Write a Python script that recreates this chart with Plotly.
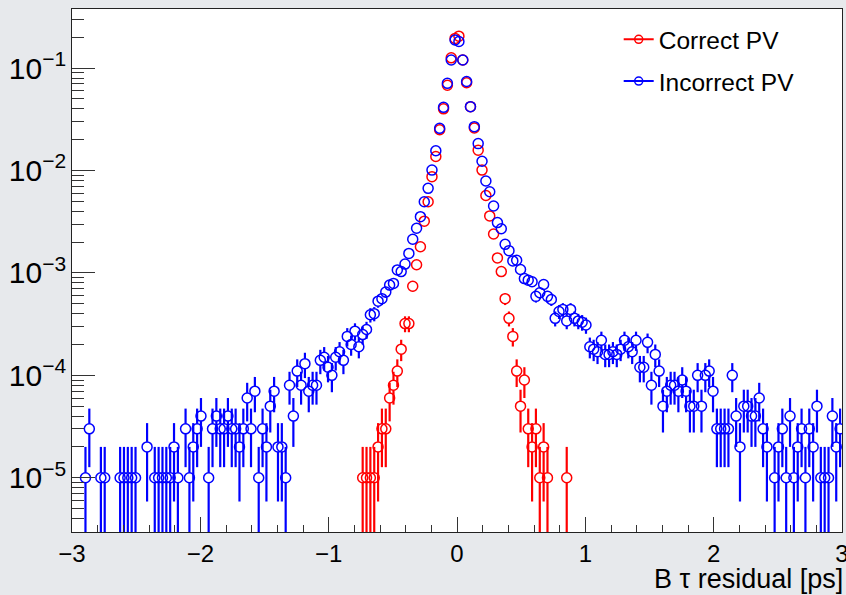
import plotly.graph_objects as go

# ---------------- data ----------------
X_MIN, X_MAX, N_BINS = -3.0, 3.0, 200
N_TOTAL = 1e5          # entries used for normalisation (1 entry -> 1e-5)

bin_width = (X_MAX - X_MIN) / N_BINS
centers = [X_MIN + bin_width * (i + 0.5) for i in range(N_BINS)]

# "Incorrect PV" (blue), one value per bin (None = empty bin)
incorrect_pv = [
    None, None, None, 1e-5, 3e-5, None, None, 1e-5, 1e-5, None,
    None, None, 1e-5, 1e-5, 1e-5, 1e-5, 1e-5, None, None, 2e-5,
    None, 1e-5, 1e-5, 1e-5, 1e-5, 1e-5, 2e-5, 1e-5, None, 3e-5,
    1e-5, 2e-5, 3e-5, 4e-5, None, 1e-5, 3e-5, 4e-5, 3e-5, 3e-5,
    4e-5, 3e-5, 3e-5, 2e-5, 3e-5, 6e-5, 3e-5, 7e-5, 1e-5, 3e-5,
    2e-5, 5e-5, 7e-5, 2e-5, 2e-5, 1e-5, 8e-5, 4e-5, 11e-5, 8e-5,
    13e-5, 7e-5, 8e-5, 8e-5, 14e-5, 15e-5, 12e-5, 10e-5, 15e-5, 17e-5,
    14e-5, 24e-5, 20e-5, 27e-5, 19e-5, 25e-5, 28e-5, 39e-5, 40e-5, 53e-5,
    56e-5, 65e-5, 76e-5, 79e-5, 107e-5, 103e-5, 122e-5, 155e-5, 213e-5, 273e-5,
    354e-5, 495e-5, 670e-5, 1010e-5, 1560e-5, 2580e-5, 4140e-5, 7100e-5, 0.120, 0.188,
    0.182, 0.120, 0.074, 0.042, 0.0268, 0.0183, 0.0123, 0.0079, 0.0062, 0.0045,
    0.0031, 0.0027, 0.0019, 0.00165, 0.00131, 0.00133, 0.00108, 0.00088, 0.00085, 0.00082,
    0.00059, 0.00064, 0.00077, 0.00059, 0.00055, 0.00036, 0.00042, 0.00044, 0.00034, 0.00044,
    0.00036, 0.00034, 0.00033, 0.00031, 0.00019, 0.00018, 0.00017, 0.00022, 0.00016, 0.00016,
    0.00017, 0.00016, 0.00018, 0.00022, 0.00019, 0.00017, 0.00022, 0.00012, 0.00012, 0.00021,
    8e-5, 16e-5, 11e-5, 5e-5, 7e-5, 8e-5, 8e-5, 7e-5, 9e-5, 7e-5,
    5e-5, 5e-5, 10e-5, 5e-5, 10e-5, 11e-5, 7e-5, 3e-5, 3e-5, 3e-5,
    3e-5, 10e-5, 4e-5, 2e-5, 5e-5, 5e-5, 4e-5, 4e-5, 6e-5, 3e-5,
    2e-5, None, 1e-5, 2e-5, 3e-5, 1e-5, 4e-5, 1e-5, 2e-5, 3e-5,
    1e-5, 3e-5, 2e-5, 5e-5, 1e-5, 1e-5, 1e-5, 4e-5, 2e-5, 3e-5,
]

# "Correct PV" (red): bins 75 .. 128 are filled, the rest are empty
correct_pv_core = [
    1e-5, 1e-5, 1e-5, 1e-5, 2e-5,                                   # 75-79
    3e-5, 3e-5, 6e-5, 8e-5, 11e-5, 18e-5, 32e-5, 32e-5, 74e-5, 120e-5,  # 80-89
    180e-5, 320e-5, 495e-5, 870e-5, 1370e-5, 2500e-5, 4000e-5, 6800e-5, 0.126, 0.195,  # 90-99
    0.205, 0.120, 0.072, 0.042, 0.026, 0.0158, 0.0101, 0.0057, 0.0036, 0.0024,  # 100-109
    0.0014, 0.00103, 0.00056, 0.00036, 0.00024, 0.00011, 5e-5, 9e-5, 3e-5, 2e-5,  # 110-119
    3e-5, 1e-5, 2e-5, 1e-5, None, None, None, None, 1e-5,              # 120-128
]
correct_pv = [None] * 75 + correct_pv_core + [None] * (N_BINS - 75 - len(correct_pv_core))

series = [
    ("Correct PV", correct_pv, "#ff0000"),
    ("Incorrect PV", incorrect_pv, "#0000ff"),
]

# ---------------- style ----------------
FONT = "Liberation Sans, Arial, Helvetica, sans-serif"
MARKER_GAP = 10 ** 0.049   # error bar stops at the marker edge (log units)
Y_RANGE = [-5.53, -0.423]
AX_COL = "#333333"


def error_segments(values):
    xs, ys = [], []
    for xc, v in zip(centers, values):
        if v is None:
            continue
        e = (v / N_TOTAL) ** 0.5
        lo = v - e if v - e > 0 else 1e-9
        hi = v + e
        if lo < v / MARKER_GAP:
            xs += [xc, xc, None]
            ys += [lo, v / MARKER_GAP, None]
        if hi > v * MARKER_GAP:
            xs += [xc, xc, None]
            ys += [v * MARKER_GAP, hi, None]
    return xs, ys


fig = go.Figure()

for name, vals, color in series:
    ex, ey = error_segments(vals)
    fig.add_trace(go.Scatter(x=ex, y=ey, mode="lines", line=dict(color=color, width=2.2),
                             showlegend=False, hoverinfo="skip"))
    fig.add_trace(go.Scatter(x=centers, y=vals, mode="markers",
                             marker=dict(symbol="circle-open", size=10, color=color,
                                         line=dict(width=1.5, color=color)),
                             showlegend=False, name=name))
    fig.add_trace(go.Scatter(x=[None], y=[None], mode="lines+markers", name=name,
                             legendgroup=name,
                             line=dict(color=color, width=2),
                             marker=dict(symbol="circle-open", size=8, color=color,
                                         line=dict(width=1.5, color=color))))

fig.update_layout(
    template="none",
    xaxis=dict(
        range=[X_MIN, X_MAX], tickmode="linear", tick0=0, dtick=1,
        ticks="inside", ticklen=15, tickwidth=1.3, tickcolor=AX_COL,
        minor=dict(ticks="inside", ticklen=7, dtick=0.2, tickwidth=1.3, tickcolor=AX_COL),
        showline=True, linecolor="#222222", linewidth=1.2, mirror=True,
        showgrid=False, zeroline=False, automargin=False, ticklabeloverflow="allow",
        tickfont=dict(family=FONT, size=24, color="black"),
    ),
    yaxis=dict(
        type="log", range=Y_RANGE, tickmode="linear", tick0=0, dtick=1,
        exponentformat="power", showexponent="all",
        ticks="inside", ticklen=23, tickwidth=1.3, tickcolor=AX_COL,
        minor=dict(ticks="inside", ticklen=12, dtick="D1", tickwidth=1.3, tickcolor=AX_COL),
        showline=True, linecolor="#222222", linewidth=1.2, mirror=True,
        showgrid=False, zeroline=False, automargin=False,
        tickfont=dict(family=FONT, size=24, color="black"),
    ),
    width=846, height=595,
    margin=dict(l=72, r=4, t=9, b=63),
    paper_bgcolor="#e7e9ec", plot_bgcolor="white",
    font=dict(family=FONT, color="black"),
    showlegend=True,
    legend=dict(x=0.71, y=0.985, xanchor="left", yanchor="top",
                font=dict(family=FONT, size=24.5, color="black"),
                bgcolor="rgba(0,0,0,0)", borderwidth=0,
                traceorder="grouped", tracegroupgap=7),
    annotations=[dict(text="B \u03c4 residual [ps]", xref="paper", yref="paper",
                      x=1, y=0, xanchor="right", yanchor="top", yshift=-30, xshift=3,
                      showarrow=False, font=dict(family=FONT, size=27, color="black"))],
)

fig.write_html("out.html", config={"displayModeBar": False},
               post_script="document.body.style.margin='0';")
